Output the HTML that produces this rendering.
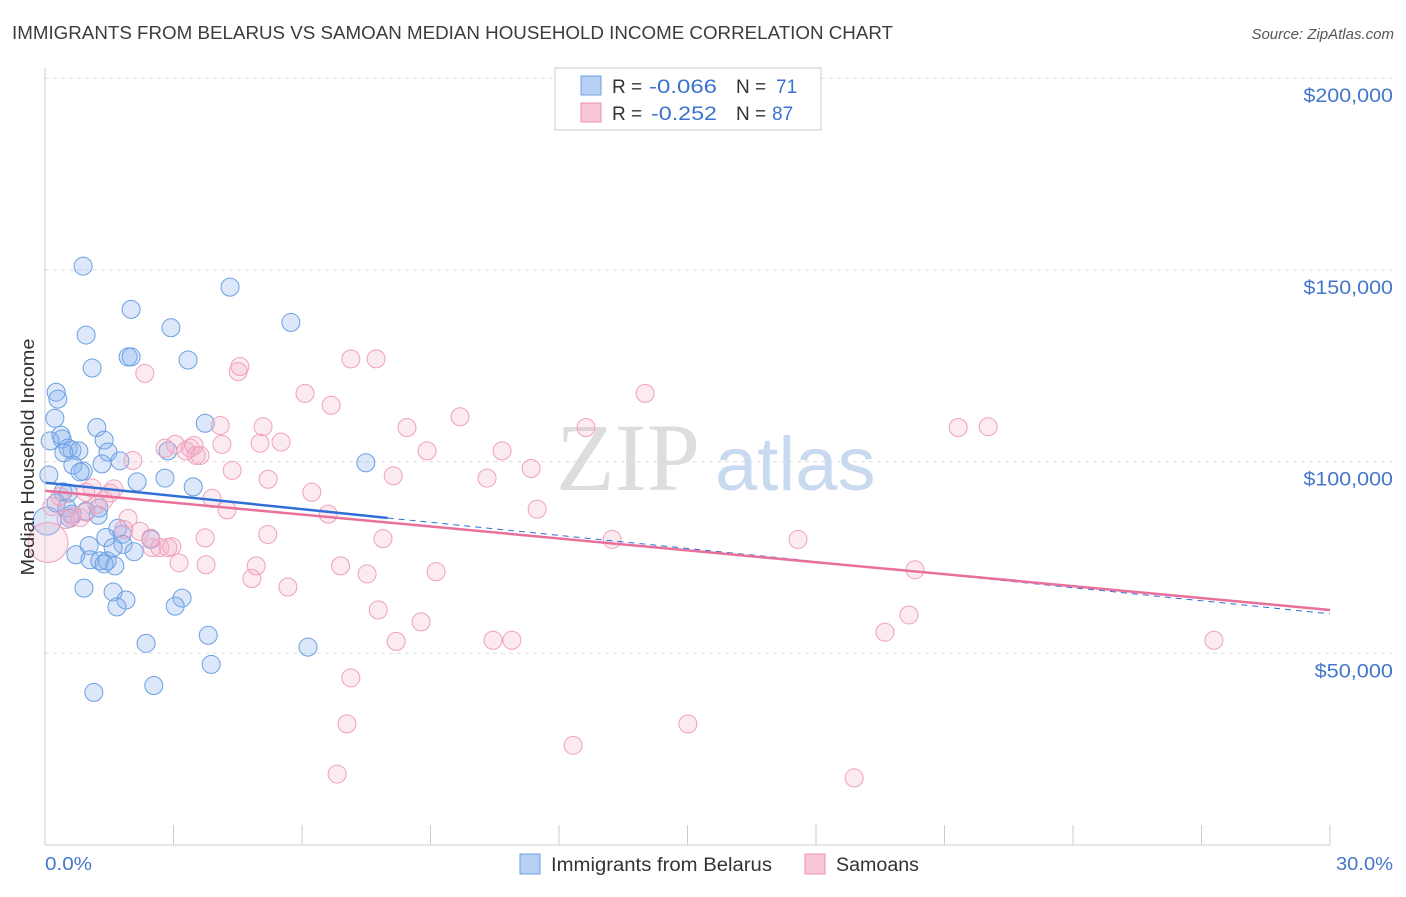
<!DOCTYPE html>
<html><head><meta charset="utf-8"><style>
body{margin:0;background:#fff;font-family:"Liberation Sans",sans-serif;}
</style></head><body>
<svg id="c" width="1406" height="892" xmlns="http://www.w3.org/2000/svg">
<text x="12" y="39" font-size="18" fill="#3c3c3c" textLength="881" lengthAdjust="spacingAndGlyphs">IMMIGRANTS FROM BELARUS VS SAMOAN MEDIAN HOUSEHOLD INCOME CORRELATION CHART</text>
<text x="1394" y="39" font-size="15" fill="#555" font-style="italic" text-anchor="end">Source: ZipAtlas.com</text>
<g id="grid"></g>
<text x="700" y="490" font-size="96" fill="#ddd" text-anchor="end" font-family="Liberation Serif,serif">ZIP</text>
<text x="715" y="490" font-size="76" fill="#c9daf0">atlas</text>
<g id="pts"></g>
<g id="lines"></g>
<line x1="45" y1="68" x2="45" y2="845" stroke="#ccc"/>
<line x1="45" y1="845" x2="1330" y2="845" stroke="#ccc"/>
<text x="45" y="870" font-size="18" fill="#4477cc" textLength="47" lengthAdjust="spacingAndGlyphs">0.0%</text>
<text x="1336" y="870" font-size="18" fill="#4477cc" textLength="57" lengthAdjust="spacingAndGlyphs">30.0%</text>
<text transform="translate(34,457) rotate(-90)" font-size="18" fill="#333" text-anchor="middle" textLength="237" lengthAdjust="spacingAndGlyphs">Median Household Income</text>
<g>
<rect x="555" y="68" width="266" height="62" fill="#fff" stroke="#ccc"/>
<rect x="581" y="76" width="20" height="19" fill="#b7d0f3" stroke="#6fa0e0"/>
<rect x="581" y="103" width="20" height="19" fill="#f9c6d6" stroke="#ec90ae"/>
<text x="612" y="93" font-size="19" fill="#333">R =</text>
<text x="649" y="93" font-size="19" fill="#3a72d0" textLength="68" lengthAdjust="spacingAndGlyphs">-0.066</text>
<text x="736" y="93" font-size="19" fill="#333">N =</text>
<text x="776" y="93" font-size="19" fill="#3a72d0">71</text>
<text x="612" y="120" font-size="19" fill="#333">R =</text>
<text x="651" y="120" font-size="19" fill="#3a72d0" textLength="66" lengthAdjust="spacingAndGlyphs">-0.252</text>
<text x="736" y="120" font-size="19" fill="#333">N =</text>
<text x="772" y="120" font-size="19" fill="#3a72d0">87</text>
</g>
<g>
<rect x="520" y="854" width="20" height="20" fill="#b7d0f3" stroke="#6fa0e0"/>
<text x="551" y="871" font-size="19" fill="#333" textLength="221" lengthAdjust="spacingAndGlyphs">Immigrants from Belarus</text>
<rect x="805" y="854" width="20" height="20" fill="#f9c6d6" stroke="#ec90ae"/>
<text x="836" y="871" font-size="19" fill="#333" textLength="83" lengthAdjust="spacingAndGlyphs">Samoans</text>
</g>
</svg>
<script>
const yTicks=[50000,100000,150000,200000];
const yTickLabels=["$50,000","$100,000","$150,000","$200,000"];
const xTicks=[0,3,6,9,12,15,18,21,24,27,30];
const blueX=[0.89,4.32,2.01,5.74,0.96,2.94,1.94,2.01,3.34,1.10,0.26,0.30,0.23,3.74,1.21,0.37,0.40,1.38,0.12,0.54,0.63,0.79,1.47,2.87,0.44,1.75,1.33,7.49,0.65,0.89,0.82,0.09,2.80,2.15,3.46,0.42,0.54,0.26,0.51,1.26,0.96,0.63,1.24,0.58,1.70,1.80,2.47,1.42,1.82,1.59,1.03,2.08,0.72,1.05,1.28,1.45,1.38,1.63,0.91,1.59,1.89,3.20,1.68,3.04,3.81,2.36,6.14,3.88,2.54,1.14,0.05];
const blueY=[151000,145500,139700,136300,133000,134900,127300,127300,126500,124400,118100,116300,111300,110000,108900,106900,105900,105600,105400,103500,103000,102800,102500,102800,102300,100200,99400,99700,99100,97500,97300,96500,95700,94700,93400,92100,91800,89200,87900,87900,87100,86300,86000,85200,82600,81000,79700,80200,78400,77600,78100,76500,75700,74400,74100,74100,73300,72800,67000,66000,63900,64400,62100,62300,54700,52600,51600,47100,41600,39800,84500];
const pinkX=[0.07,0.16,0.35,0.49,0.63,0.82,0.96,1.10,1.21,1.38,1.52,1.61,1.94,1.84,2.05,2.22,2.33,2.50,2.68,2.80,2.87,2.96,3.04,3.13,3.29,3.39,3.48,3.53,3.62,3.74,3.76,3.90,4.09,4.13,4.25,4.37,4.51,4.55,4.83,4.93,5.02,5.09,5.21,5.51,5.67,6.07,6.23,6.61,6.68,6.82,7.05,7.14,7.14,7.52,7.73,7.78,7.89,8.13,8.20,8.45,8.78,8.92,9.13,9.69,10.32,10.46,10.67,10.90,11.35,11.49,12.33,12.63,13.24,14.01,15.01,17.58,18.89,19.61,20.17,20.31,21.32,22.02,27.29,2.47,0.95,5.20,6.90];
const pinkY=[78900,88300,90900,84900,85700,85400,86800,93100,88900,90000,91800,92900,85200,82300,100300,81800,123000,77600,77600,103500,77600,77800,104500,73600,102800,103500,104200,101600,101600,80100,73100,90400,109400,104500,87400,97700,123500,124800,69500,72800,104800,109100,95400,105100,67300,117800,92000,86300,114700,18500,31600,43600,126800,70700,126800,61300,79900,96300,53100,108900,58200,102800,71300,111700,95700,53400,102800,53400,98200,87600,26000,108900,79700,117800,31600,79700,17500,55500,60000,71800,108900,109100,53400,80000,92000,81000,72800];
const X=v=>45+v*1285/30, Y=v=>845-v*383.4/100000;
const ns="http://www.w3.org/2000/svg";
const g=document.getElementById('grid'),p=document.getElementById('pts'),l=document.getElementById('lines');
function mk(tag,at,par){const e=document.createElementNS(ns,tag);for(const k in at)e.setAttribute(k,at[k]);par.appendChild(e);return e;}
yTicks.forEach((v,i)=>{
 const ln=mk('line',{x1:45,x2:1394,y1:Y(v),y2:Y(v),stroke:'#ddd','stroke-dasharray':'4,4'},g);
 
 
 const t=mk('text',{x:1393,y:Y(v)+24,'font-size':19,fill:'#4477cc','text-anchor':'end'},g);
 t.textContent=yTickLabels[i];
 t.setAttribute('textLength', yTickLabels[i].length*11.2);
 t.setAttribute('lengthAdjust','spacingAndGlyphs');
 
 
});
xTicks.forEach(v=>{
 const t=mk('line',{x1:X(v),x2:X(v),y1:825,y2:845,stroke:'#ccc'},g);
 
 
});
blueX.forEach((v,i)=>{
 const c=mk('circle',{cx:X(v),cy:Y(blueY[i]),r:i==blueX.length-1?14:9,fill:'rgba(140,180,240,0.3)',stroke:'#6a9fe2','stroke-width':1},p);
 
 
});
pinkX.forEach((v,i)=>{
 const c=mk('circle',{cx:X(v),cy:Y(pinkY[i]),r:i==0?20:9,fill:'rgba(245,170,198,0.25)',stroke:'#f0a0bc','stroke-width':1},p);
 
 
});
const bl=mk('line',{x1:X(0),y1:Y(94500),x2:X(8),y2:Y(85300),stroke:'#2f6fd6','stroke-width':2.5},l);


const bd=mk('line',{x1:X(8),y1:Y(85300),x2:X(30),y2:Y(60300),stroke:'#2f6fd6','stroke-width':1,'stroke-dasharray':'6,5'},l);


const pl=mk('line',{x1:X(0),y1:Y(92400),x2:X(30),y2:Y(61300),stroke:'#e8709a','stroke-width':2.5},l);


</script>
</body></html>
